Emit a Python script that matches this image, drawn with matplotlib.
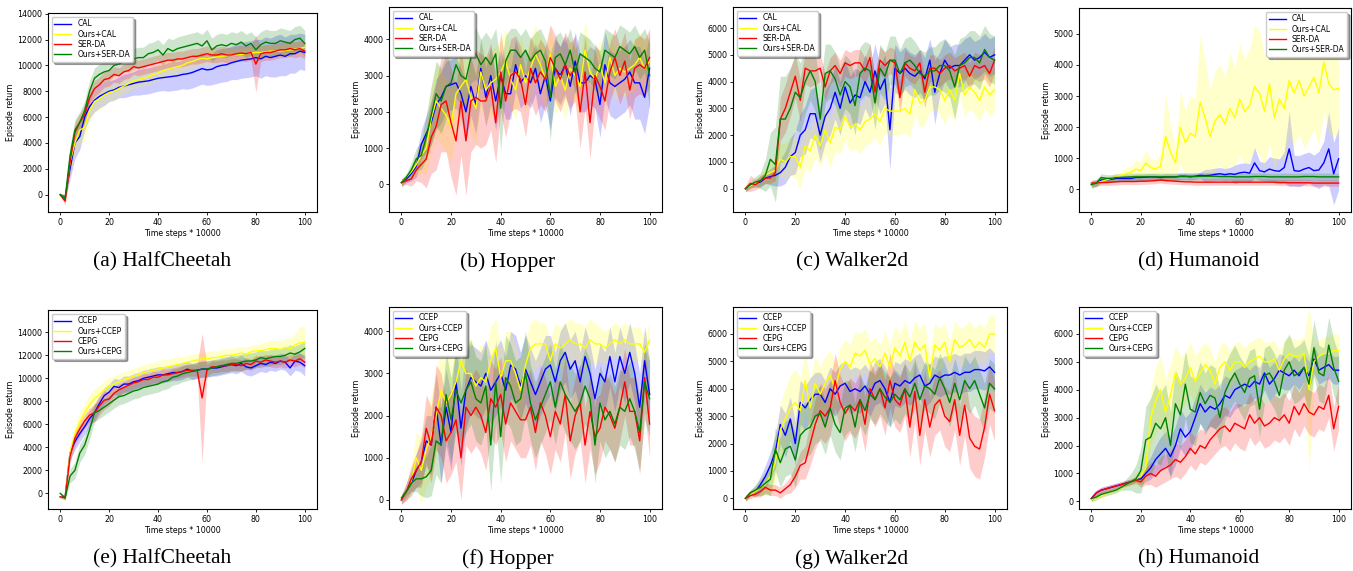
import numpy as np
import matplotlib.pyplot as plt
from matplotlib.ticker import MultipleLocator

# time steps (x 10000), every second step
steps = np.arange(0, 101, 2)

# ---- (a) HalfCheetah, CAL / SER-DA ----
hc_cal = [0, -200, 2000, 4000, 4500, 6000, 6800, 7300, 7600, 7800,
          8000, 8100, 8300, 8400, 8500, 8600, 8700, 8750, 8800, 8900,
          9000, 9050, 9100, 9150, 9200, 9300, 9350, 9450, 9600, 9750,
          9650, 9700, 9900, 10000, 10050, 10200, 10300, 10400, 10450, 10500,
          10600, 10500, 10700, 10600, 10700, 10800, 10700, 10900, 10900, 11100,
          11000]
hc_ours_cal = [0, -300, 2500, 4000, 5000, 5200, 6500, 7200, 7400, 7700,
               7900, 8000, 8200, 8400, 8600, 8800, 8900, 9000, 9100, 9300,
               9400, 9600, 9700, 9800, 9900, 10000, 10200, 10300, 10450, 10550,
               10500, 10600, 10650, 10700, 10750, 10800, 10800, 10850, 10900, 10950,
               11000, 11000, 11050, 11100, 11100, 11100, 11150, 11200, 11250, 11300,
               11400]
hc_ser = [0, -500, 2500, 4800, 5600, 6200, 7500, 8200, 8500, 8900,
          9000, 9300, 9200, 9500, 9600, 9900, 9800, 9900, 10000, 10100,
          10200, 10300, 10400, 10400, 10500, 10500, 10600, 10700, 10700, 10800,
          10900, 10800, 10800, 10900, 10800, 10800, 10900, 10950, 10900, 11000,
          10100, 10900, 11000, 11000, 11100, 11200, 11200, 11300, 11200, 11300,
          11100]
hc_ours_ser = [0, -300, 3000, 5000, 5600, 6500, 8000, 9000, 9300, 9500,
               9600, 10000, 10100, 10300, 10300, 10500, 10600, 10600, 10900, 11000,
               11200, 10800, 11300, 11100, 11300, 11400, 11500, 11600, 11700, 11500,
               11900, 11200, 11500, 11600, 11500, 11700, 11600, 11800, 11500, 11700,
               11200, 11600, 11800, 11700, 11700, 11900, 11800, 11700, 12000, 12100,
               11700]
# band half widths, in hundreds
hc_cal_sd = [1, 2, 8, 12, 10, 10, 9, 9, 9, 9, 8, 8, 8, 9, 9, 9, 10, 10, 10, 10,
             10, 10, 11, 11, 11, 11, 12, 12, 12, 12, 12, 12, 13, 13, 13, 13, 14, 14, 14, 14,
             14, 15, 15, 15, 16, 16, 15, 15, 15, 14, 14]
hc_ours_cal_sd = [1, 3, 8, 10, 11, 10, 9, 8, 8, 7, 7, 7, 6, 6, 6, 6, 6, 6, 6, 6,
                  6, 6, 6, 6, 6, 5, 5, 5, 5, 5, 5, 5, 5, 5, 5, 5, 5, 5, 5, 5,
                  5, 5, 5, 5, 5, 5, 5, 5, 5, 6, 6]
hc_ser_sd = [1, 3, 8, 8, 7, 7, 7, 6, 6, 6, 6, 6, 6, 6, 6, 6, 6, 6, 6, 6,
             6, 6, 6, 6, 6, 6, 6, 6, 6, 6, 6, 6, 6, 6, 6, 6, 6, 6, 6, 6,
             22, 6, 6, 6, 6, 6, 6, 6, 6, 6, 6]
hc_ours_ser_sd = [1, 3, 8, 8, 8, 8, 8, 8, 8, 8, 8, 8, 8, 8, 8, 8, 8, 8, 8, 8,
                  8, 8, 8, 9, 9, 9, 9, 9, 9, 9, 9, 9, 9, 9, 9, 9, 9, 9, 9, 9,
                  10, 10, 10, 10, 10, 10, 10, 10, 10, 10, 10]

# ---- (b) Hopper, CAL / SER-DA ----
hop_cal = [50, 150, 300, 500, 1100, 1400, 1700, 2200, 2400, 2700,
           2750, 2800, 2500, 2000, 2700, 2200, 3200, 2400, 3000, 2300,
           3000, 2500, 2500, 3300, 2800, 3000, 2800, 3200, 2500, 3000,
           2300, 3200, 3000, 3300, 2700, 3400, 2800, 2800, 3000, 2900,
           2200, 3300, 2800, 2700, 2800, 2900, 3100, 2800, 2800, 2400,
           3200]
hop_ours_cal = [50, 200, 350, 550, 800, 1000, 1800, 2300, 2100, 1900,
                1600, 2500, 2700, 2900, 2400, 2100, 3100, 2600, 2800, 2900,
                3100, 3400, 2900, 2600, 3300, 2800, 3200, 3600, 3300, 2900,
                3600, 2700, 3000, 2600, 3200, 3000, 2700, 3700, 3100, 2900,
                3300, 2800, 3500, 3000, 3200, 3100, 3200, 3300, 3500, 3200,
                3400]
hop_ser = [50, 100, 150, 400, 550, 700, 1300, 1600, 2200, 2300,
           1700, 1200, 2300, 1200, 2300, 2400, 2300, 2300, 2700, 1700,
           3100, 2300, 3000, 3100, 2900, 2200, 3200, 2800, 3100, 2900,
           3500, 3200, 2900, 3300, 3000, 3200, 2000, 3100, 1700, 3000,
           2700, 2300, 3100, 3500, 3000, 3400, 2600, 3200, 3300, 3200,
           3500]
hop_ours_ser = [50, 200, 400, 700, 800, 1300, 1900, 2500, 2300, 2700,
                2800, 3300, 3000, 2900, 3500, 3600, 3300, 3500, 3300, 3600,
                2100, 3400, 3700, 3700, 3500, 3700, 3400, 3600, 3700, 3400,
                2400, 3500, 3600, 3300, 3700, 3100, 3600, 3500, 3400, 3200,
                3100, 3700, 3600, 3500, 3800, 3700, 3600, 3800, 3500, 3700,
                3000]
hop_cal_sd = [1, 1, 2, 3, 4, 5, 6, 7, 7, 7, 7, 7, 7, 8, 8, 8, 8, 8, 8, 8,
              7, 7, 7, 7, 7, 7, 7, 7, 8, 8, 8, 8, 8, 8, 8, 8, 8, 8, 8, 8,
              9, 9, 9, 9, 9, 9, 9, 10, 10, 10, 10]
hop_ours_cal_sd = [1, 1, 2, 3, 5, 7, 9, 10, 10, 10, 10, 10, 10, 10, 10, 10, 9, 9, 9, 9,
                   9, 9, 8, 8, 8, 8, 8, 8, 8, 8, 8, 8, 8, 8, 8, 8, 8, 8, 7, 7,
                   7, 7, 7, 7, 7, 7, 7, 7, 7, 7, 7]
hop_ser_sd = [1, 1, 2, 3, 5, 8, 10, 12, 13, 14, 15, 15, 15, 15, 14, 13, 13, 12, 12, 11,
              11, 10, 10, 10, 9, 9, 9, 9, 9, 9, 9, 9, 9, 9, 9, 9, 10, 10, 10, 9,
              9, 8, 8, 8, 8, 8, 8, 8, 8, 8, 8]
hop_ours_ser_sd = [1, 1, 2, 3, 4, 6, 8, 9, 9, 9, 9, 9, 8, 8, 7, 7, 7, 7, 7, 7,
                   12, 7, 6, 6, 6, 6, 6, 6, 6, 6, 12, 6, 6, 6, 6, 6, 6, 6, 6, 6,
                   6, 6, 6, 6, 6, 6, 6, 6, 6, 6, 9]

# ---- (c) Walker2d, CAL / SER-DA ----
walk_cal = [0, 100, 200, 250, 400, 450, 500, 600, 800, 1200,
            1350, 2000, 2200, 2800, 2800, 2000, 2700, 3000, 3600, 3000,
            3800, 3200, 3500, 3400, 4000, 3600, 4400, 3700, 4100, 2200,
            4500, 4300, 4500, 4300, 4200, 4400, 4100, 4800, 3600, 4300,
            4800, 4500, 4600, 4600, 4800, 5000, 4800, 4900, 5100, 4900,
            5000]
walk_ours_cal = [0, 100, 200, 300, 500, 600, 700, 1100, 1000, 1200,
                 1200, 800, 1600, 1400, 2000, 1600, 2200, 1700, 2300, 2200,
                 2700, 2300, 2400, 2200, 2500, 2600, 2800, 2500, 3000, 2900,
                 2900, 2900, 3000, 2800, 3700, 3200, 3300, 3800, 3800, 3700,
                 3300, 3700, 3300, 4300, 3500, 3800, 3600, 3300, 3800, 3500,
                 3700]
walk_ser = [0, 200, 150, 300, 400, 400, 600, 2600, 3000, 3600,
            4200, 3300, 4500, 4400, 4400, 4500, 3800, 4400, 4600, 4300,
            4700, 4600, 4700, 4700, 4400, 4900, 3600, 4800, 4600, 4800,
            4700, 3400, 4700, 4500, 4400, 4700, 3600, 4500, 4500, 4300,
            4500, 4600, 4400, 4500, 4600, 4200, 4600, 4500, 4600, 4300,
            4800]
walk_ours_ser = [0, 150, 250, 300, 500, 1100, 900, 2600, 2600, 3000,
                 3600, 3400, 4000, 4400, 4000, 2600, 4300, 4400, 4100, 3500,
                 4000, 3800, 3100, 4300, 4500, 4400, 3200, 4500, 4200, 4800,
                 4800, 4300, 4700, 4800, 4600, 4300, 4200, 4400, 4400, 4600,
                 4600, 4400, 3800, 4600, 4700, 4900, 4900, 4700, 5200, 4900,
                 4800]
walk_cal_sd = [1, 1, 1, 2, 2, 3, 4, 5, 6, 7, 8, 8, 9, 9, 10, 10, 10, 10, 10, 10,
               10, 10, 10, 10, 10, 10, 10, 9, 9, 15, 9, 8, 8, 8, 8, 8, 8, 8, 12, 8,
               8, 8, 8, 8, 8, 7, 7, 7, 7, 7, 7]
walk_ours_cal_sd = [1, 1, 1, 2, 3, 4, 5, 6, 7, 7, 8, 8, 8, 8, 8, 8, 9, 9, 9, 9,
                    9, 9, 9, 9, 9, 9, 9, 9, 9, 9, 9, 9, 9, 9, 9, 9, 9, 9, 9, 9,
                    9, 9, 8, 8, 8, 8, 8, 8, 8, 8, 8]
walk_ser_sd = [1, 3, 2, 2, 2, 2, 3, 8, 9, 9, 8, 8, 6, 6, 5, 5, 5, 5, 5, 5,
               5, 5, 5, 5, 5, 5, 6, 5, 5, 5, 5, 6, 5, 5, 5, 5, 6, 5, 5, 5,
               5, 5, 5, 5, 5, 5, 5, 5, 5, 5, 5]
walk_ours_ser_sd = [1, 1, 2, 3, 6, 10, 14, 16, 16, 15, 14, 13, 12, 11, 11, 12, 11, 10, 10, 10,
                    10, 10, 11, 10, 10, 10, 10, 9, 9, 9, 9, 9, 9, 9, 9, 9, 9, 9, 9, 9,
                    10, 10, 12, 10, 10, 10, 10, 10, 9, 9, 9]

# ---- (d) Humanoid, CAL / SER-DA ----
hum_cal = [150, 200, 300, 300, 320, 350, 350, 350, 350, 380,
           380, 390, 400, 400, 380, 400, 400, 400, 420, 420,
           400, 420, 450, 440, 450, 480, 500, 470, 500, 480,
           530, 550, 520, 850, 600, 560, 650, 600, 580, 700,
           1300, 600, 580, 650, 700, 600, 620, 850, 1300, 500,
           980]
hum_ours_cal = [150, 200, 250, 300, 350, 400, 450, 500, 550, 650,
                600, 850, 700, 650, 750, 1700, 1200, 850, 2000, 1500,
                1800, 1700, 2800, 2300, 1700, 2200, 2400, 2100, 2600, 2300,
                2900, 2500, 2700, 3300, 3100, 2500, 3400, 2300, 2900, 2600,
                3500, 3100, 3500, 3000, 3300, 3600, 3100, 4100, 3400, 3200,
                3250]
hum_ser = [200, 200, 220, 220, 230, 240, 250, 250, 250, 250,
           260, 260, 270, 280, 300, 280, 270, 260, 250, 240,
           240, 230, 230, 230, 230, 230, 230, 230, 230, 230,
           230, 230, 230, 230, 230, 230, 230, 230, 220, 220,
           210, 210, 210, 210, 210, 200, 200, 200, 200, 200,
           200]
hum_ours_ser = [150, 200, 380, 350, 350, 380, 380, 390, 400, 400,
                400, 400, 400, 400, 400, 400, 400, 400, 410, 410,
                420, 410, 420, 420, 420, 420, 410, 410, 410, 400,
                400, 400, 400, 410, 410, 410, 400, 400, 400, 400,
                400, 400, 400, 410, 410, 410, 400, 400, 400, 400,
                400]
hum_cal_sd = [1, 1, 1, 1, 1, 1, 1, 1, 1, 1, 1, 1, 1, 1, 1, 1, 1, 1, 1, 1,
              1, 1, 1, 2, 2, 2, 2, 2, 2, 3, 3, 3, 3, 5, 3, 3, 4, 4, 4, 5,
              12, 5, 5, 5, 5, 5, 6, 7, 12, 10, 10]
hum_ours_cal_sd = [1, 1, 1, 1, 1, 1, 1, 2, 2, 3, 3, 4, 3, 3, 4, 14, 9, 5, 12, 10,
                   12, 12, 22, 18, 15, 16, 16, 15, 18, 16, 18, 17, 18, 20, 20, 18, 19, 17, 18, 17,
                   18, 17, 17, 17, 17, 17, 17, 16, 16, 15, 15]
hum_ser_sd = 1
hum_ours_ser_sd = 1.2

# ---- (e) HalfCheetah, CCEP / CEPG ----
hc2_ccep = [-300, -300, 3500, 4500, 5200, 5800, 6500, 7000, 7800, 8500,
            8800, 9300, 9200, 9500, 9500, 9700, 9800, 10000, 10100, 10200,
            10300, 10300, 10400, 10500, 10500, 10600, 10800, 10600, 10700, 10800,
            10800, 10900, 10900, 11000, 11100, 11200, 11100, 11300, 11000, 10900,
            11100, 11300, 11200, 11400, 11300, 11500, 11400, 10900, 11500, 11400,
            11100]
hc2_ours_ccep = [-300, -400, 3500, 5200, 6200, 7000, 7700, 8200, 8600, 9000,
                 9300, 9500, 9700, 9900, 10000, 10200, 10300, 10500, 10600, 10700,
                 10800, 10900, 11000, 11100, 11200, 11300, 11400, 11500, 11600, 11700,
                 11700, 11800, 11800, 11900, 12000, 12000, 12100, 12200, 12100, 12300,
                 12400, 12400, 12500, 12600, 12600, 12500, 12700, 12600, 12900, 13100,
                 13100]
hc2_cepg = [-300, -400, 3200, 4800, 5600, 6300, 6800, 7000, 7600, 8100,
            8200, 8700, 9000, 9200, 9400, 9600, 9700, 9900, 9900, 10100,
            10100, 10300, 10300, 10400, 10500, 10600, 10700, 10700, 10700, 8300,
            10700, 11000, 11000, 11100, 11100, 11200, 11200, 11100, 11300, 11200,
            11500, 11400, 11600, 11500, 11400, 11500, 11400, 11600, 11500, 11700,
            11400]
hc2_ours_cepg = [0, -400, 1500, 2000, 3500, 4200, 5500, 7000, 7200, 7500,
                 7800, 8100, 8400, 8500, 8700, 8900, 9000, 9200, 9300, 9400,
                 9500, 9700, 9800, 10100, 10200, 10400, 10500, 10600, 10700, 10800,
                 10800, 10900, 11000, 11100, 11200, 11300, 11300, 11400, 11500, 11500,
                 11600, 11800, 11700, 11800, 11900, 11900, 12000, 12200, 12100, 12300,
                 12600]
hc2_ccep_sd = [1, 2, 6, 7, 7, 7, 7, 7, 7, 7, 7, 7, 7, 7, 7, 7, 7, 7, 7, 7,
               7, 7, 7, 7, 7, 7, 7, 7, 7, 7, 7, 7, 7, 7, 7, 7, 7, 7, 7, 7,
               7, 7, 7, 7, 7, 7, 7, 7, 8, 8, 9]
hc2_ours_ccep_sd = [1, 2, 6, 8, 9, 9, 9, 9, 8, 8, 8, 7, 7, 7, 7, 7, 7, 7, 7, 7,
                    7, 7, 7, 7, 7, 6, 6, 6, 6, 6, 6, 6, 6, 6, 6, 6, 6, 6, 6, 6,
                    6, 6, 7, 7, 7, 8, 8, 9, 10, 14, 14]
hc2_cepg_sd = [1, 2, 6, 6, 6, 6, 6, 8, 8, 8, 6, 6, 5, 5, 5, 5, 5, 5, 5, 5,
               5, 5, 5, 5, 5, 5, 5, 5, 5, 56, 5, 5, 5, 5, 5, 5, 5, 5, 5, 5,
               5, 5, 5, 5, 5, 5, 5, 5, 5, 5, 5]
hc2_ours_cepg_sd = [1, 2, 6, 7, 8, 8, 8, 8, 7, 7, 7, 7, 7, 7, 7, 7, 7, 7, 7, 7,
                    7, 7, 7, 7, 7, 7, 7, 7, 7, 7, 7, 7, 7, 7, 7, 7, 7, 7, 7, 7,
                    7, 7, 7, 7, 7, 7, 7, 7, 7, 7, 7]

# ---- (f) Hopper, CCEP / CEPG ----
hop2_ccep = [0, 200, 400, 700, 900, 1400, 1300, 2200, 1300, 2200,
             1600, 2800, 1700, 2600, 2900, 2800, 2700, 3000, 2600, 2800,
             3000, 2600, 3200, 3100, 2700, 3100, 2800, 2500, 2800, 3100,
             3200, 2800, 3300, 3500, 3100, 3300, 2800, 3400, 3000, 2400,
             3000, 2800, 3400, 2800, 3400, 3000, 3500, 3000, 2200, 3300,
             2500]
hop2_ours_ccep = [0, 200, 450, 1000, 700, 1200, 1500, 2000, 2600, 2300,
                  2500, 2800, 3300, 3000, 3000, 2700, 2900, 2800, 3300, 3600,
                  2900, 3300, 3300, 3000, 2600, 3200, 3600, 3700, 3700, 3700,
                  3300, 3700, 3600, 3700, 3800, 3700, 3700, 3600, 3800, 3700,
                  3700, 3600, 3700, 3800, 3700, 3800, 3700, 3700, 3700, 3500,
                  3800]
hop2_cepg = [0, 200, 500, 700, 900, 1700, 1300, 2200, 2000, 1400,
             1600, 1900, 1000, 2200, 2000, 2200, 2000, 1600, 2400, 2200,
             2500, 1800, 2300, 2100, 1900, 1900, 2200, 1600, 2300, 2000,
             1500, 2100, 1800, 2500, 1400, 2000, 2300, 1300, 2100, 1500,
             1700, 2200, 2000, 1700, 2200, 2800, 2100, 2100, 1400, 2900,
             1800]
hop2_ours_cepg = [50, 200, 400, 500, 500, 550, 700, 1400, 1300, 2500,
                  1900, 2600, 2300, 2600, 2800, 2400, 2300, 2700, 1300, 2800,
                  1500, 2900, 2700, 2300, 2400, 3000, 2300, 1900, 2200, 2500,
                  2800, 2200, 2800, 2500, 2300, 2100, 2300, 2700, 2400, 1300,
                  2300, 1900, 2100, 1800, 2200, 2100, 2400, 2100, 1600, 2800,
                  2400]
hop2_ccep_sd = [1, 2, 3, 4, 5, 6, 7, 8, 9, 9, 9, 9, 9, 9, 8, 8, 8, 8, 8, 8,
                8, 8, 8, 8, 8, 8, 8, 8, 8, 8, 7, 7, 7, 7, 7, 7, 7, 7, 7, 7,
                7, 7, 7, 7, 7, 7, 7, 7, 8, 8, 8]
hop2_ours_ccep_sd = [1, 2, 4, 6, 8, 9, 10, 10, 10, 10, 10, 9, 9, 9, 8, 8, 8, 8, 8, 7,
                     7, 7, 7, 7, 7, 6, 6, 6, 5, 5, 5, 5, 5, 5, 5, 5, 5, 5, 5, 5,
                     4, 4, 4, 4, 4, 4, 4, 4, 4, 4, 4]
hop2_cepg_sd = [1, 2, 3, 4, 6, 8, 9, 10, 10, 10, 10, 10, 10, 9, 9, 9, 9, 9, 9, 9,
                9, 9, 9, 9, 9, 9, 9, 9, 9, 9, 9, 9, 9, 9, 9, 9, 9, 9, 9, 9,
                8, 8, 8, 8, 8, 8, 8, 8, 8, 8, 8]
hop2_ours_cepg_sd = [1, 1, 2, 3, 4, 5, 6, 8, 9, 10, 10, 10, 10, 10, 10, 10, 10, 10, 11, 10,
                     11, 10, 10, 10, 10, 10, 9, 9, 9, 9, 9, 9, 9, 9, 9, 9, 9, 9, 9, 9,
                     9, 9, 9, 9, 9, 9, 9, 9, 9, 9, 9]

# ---- (g) Walker2d, CCEP / CEPG ----
walk2_ccep = [0, 200, 250, 500, 800, 1200, 1700, 2700, 2300, 2900,
              2000, 3500, 3300, 3600, 3800, 3800, 3500, 4000, 3800, 4100,
              4200, 3900, 4000, 3900, 4100, 3800, 4200, 4300, 4000, 3500,
              4200, 4100, 4300, 4200, 4400, 4500, 4100, 4200, 4500, 4400,
              4500, 4500, 4600, 4500, 4600, 4600, 4700, 4700, 4650, 4800,
              4600]
walk2_ours_ccep = [0, 150, 250, 400, 500, 800, 1300, 2500, 2900, 3300,
                   3500, 3200, 4300, 3300, 4200, 3800, 4200, 4500, 4000, 4700,
                   5000, 4800, 5300, 5200, 5400, 4900, 5100, 4800, 5300, 4800,
                   5500, 5200, 5700, 5000, 5700, 5400, 5600, 4400, 5600, 5400,
                   5700, 5000, 5800, 5500, 5600, 5800, 5500, 5700, 5500, 6000,
                   6000]
walk2_cepg = [0, 100, 150, 250, 400, 300, 300, 200, 350, 500,
              800, 1200, 1300, 2000, 2700, 3200, 3000, 3300, 4300, 3500,
              3100, 3400, 3200, 3600, 2700, 4000, 3600, 4000, 3300, 4300,
              3600, 3400, 4000, 2600, 3900, 2300, 3600, 2600, 3400, 3600,
              3000, 2800, 3600, 2300, 3400, 2200, 1900, 1800, 2600, 3800,
              3200]
walk2_ours_cepg = [0, 200, 300, 400, 550, 700, 1800, 1300, 1800, 1900,
                   1400, 2300, 2500, 2600, 3000, 3100, 2600, 3300, 2700, 2400,
                   3300, 3400, 2600, 3600, 3200, 3800, 3600, 4000, 3700, 3500,
                   3800, 3600, 4000, 3700, 4200, 3600, 4100, 4000, 3800, 4400,
                   4000, 3500, 4200, 3600, 4300, 4000, 4300, 3800, 3300, 4200,
                   4000]
walk2_ccep_sd = [1, 1, 2, 3, 4, 5, 6, 7, 8, 8, 8, 8, 8, 8, 8, 8, 8, 8, 8, 8,
                 8, 8, 8, 8, 8, 8, 8, 8, 8, 9, 8, 8, 8, 8, 8, 8, 8, 7, 7, 7,
                 7, 7, 7, 7, 7, 7, 7, 7, 7, 7, 7]
walk2_ours_ccep_sd = [1, 1, 2, 3, 4, 6, 8, 10, 11, 12, 12, 12, 11, 10, 10, 10, 10, 9, 9, 8,
                      8, 8, 8, 8, 8, 8, 8, 8, 8, 8, 8, 8, 8, 8, 8, 8, 8, 8, 8, 8,
                      7, 7, 7, 7, 7, 7, 7, 7, 7, 7, 7]
walk2_cepg_sd = [1, 1, 1, 2, 2, 2, 2, 2, 2, 3, 4, 5, 6, 8, 9, 10, 10, 10, 10, 10,
                 10, 10, 10, 10, 10, 10, 10, 10, 10, 10, 10, 10, 10, 11, 11, 11, 11, 11, 11, 11,
                 11, 11, 11, 11, 11, 11, 11, 11, 11, 11, 11]
walk2_ours_cepg_sd = [1, 1, 2, 3, 4, 6, 8, 9, 10, 10, 10, 10, 10, 10, 10, 10, 10, 10, 10, 10,
                      10, 9, 9, 9, 9, 9, 9, 9, 9, 9, 9, 9, 9, 9, 9, 9, 9, 9, 9, 9,
                      9, 9, 9, 9, 9, 9, 9, 9, 9, 9, 9]

# ---- (h) Humanoid, CCEP / CEPG ----
hum2_ccep = [100, 300, 400, 450, 500, 550, 600, 650, 700, 800,
             800, 1000, 1200, 1500, 1700, 1900, 1600, 2000, 2600, 2300,
             2500, 3000, 3500, 3200, 3400, 3300, 3500, 3800, 3700, 4000,
             4100, 4200, 4100, 4300, 4200, 4600, 4200, 4400, 4700, 4600,
             4500, 4700, 4500, 4800, 4500, 5100, 4700, 4800, 4900, 4700,
             4700]
hum2_ours_ccep = [50, 150, 200, 300, 350, 400, 500, 600, 700, 800,
                  900, 1200, 3000, 3600, 4000, 3200, 3800, 4600, 4200, 4400,
                  4800, 4300, 4600, 4900, 4700, 4200, 4800, 5000, 4700, 5000,
                  5000, 4800, 5000, 5100, 5200, 5000, 5000, 5100, 4700, 5100,
                  5300, 5200, 5200, 5300, 4000, 5000, 5200, 5300, 5300, 5400,
                  5400]
hum2_cepg = [100, 300, 400, 450, 500, 550, 600, 650, 700, 750,
             700, 900, 1000, 900, 1100, 1200, 1300, 1500, 1400, 1600,
             1900, 1700, 2000, 1900, 2200, 2400, 2600, 2700, 2500, 2800,
             2700, 2600, 3100, 2800, 3000, 2700, 2800, 3000, 2900, 3100,
             2800, 3400, 3100, 3500, 3200, 3100, 3400, 3300, 3800, 2600,
             3400]
hum2_ours_cepg = [100, 150, 250, 300, 350, 400, 500, 600, 700, 800,
                  1100, 2200, 2300, 2800, 2600, 3000, 2000, 3500, 3100, 4200,
                  3300, 3200, 3900, 3500, 3800, 3700, 3000, 3900, 4300, 4600,
                  4200, 3900, 4400, 4500, 3300, 4500, 4600, 4300, 3800, 4700,
                  5000, 4500, 4600, 4800, 4200, 5500, 4600, 4500, 5600, 4800,
                  4300]
hum2_ccep_sd = [1, 1, 1, 1, 1, 1, 1, 1, 1, 1, 2, 3, 4, 5, 6, 6, 7, 7, 7, 7,
                7, 7, 7, 7, 7, 7, 7, 7, 7, 7, 7, 7, 6, 6, 6, 6, 6, 6, 6, 6,
                5, 5, 5, 5, 5, 5, 5, 5, 5, 5, 5]
hum2_ours_ccep_sd = [1, 1, 1, 1, 1, 1, 1, 1, 1, 2, 3, 6, 10, 12, 12, 12, 11, 10, 10, 9,
                     9, 9, 9, 8, 8, 8, 8, 7, 7, 7, 7, 7, 7, 7, 7, 7, 7, 7, 7, 7,
                     6, 6, 6, 6, 30, 6, 6, 6, 6, 6, 6]
hum2_cepg_sd = [1, 1, 1, 1, 1, 1, 1, 1, 1, 1, 2, 3, 4, 4, 5, 5, 5, 6, 6, 6,
                6, 6, 6, 6, 7, 7, 7, 7, 7, 7, 8, 8, 8, 8, 8, 8, 8, 8, 8, 8,
                8, 8, 8, 8, 8, 8, 8, 8, 8, 8, 8]
hum2_ours_cepg_sd = [1, 1, 1, 1, 1, 1, 1, 2, 3, 5, 8, 12, 14, 14, 13, 12, 12, 12, 12, 12,
                     12, 12, 11, 11, 11, 11, 10, 10, 10, 10, 10, 10, 10, 10, 10, 10, 10, 10, 10, 10,
                     10, 10, 10, 10, 10, 10, 10, 10, 10, 10, 10]

labels_top = ['CAL', 'Ours+CAL', 'SER-DA', 'Ours+SER-DA']
labels_bottom = ['CCEP', 'Ours+CCEP', 'CEPG', 'Ours+CEPG']
colors = ['blue', 'yellow', 'red', 'green']

W, H = 1353, 571
fig = plt.figure(figsize=(W / 100, H / 100), dpi=100)


def panel(box, series, spreads, labels, ylim, ystep, loc, caption, cap_xy):
    l, t, r, b = box
    ax = fig.add_axes([l / W, 1 - b / H, (r - l) / W, (b - t) / H])
    for y, sd, lab, c in zip(series, spreads, labels, colors):
        y = np.asarray(y, float)
        sd = np.asarray(sd, float) * 100
        ax.fill_between(steps, y - sd, y + sd, color=c, alpha=0.2, lw=0)
        ax.plot(steps, y, color=c, lw=1.0, label=lab)
    ax.set_xlim(-5, 105)
    ax.set_ylim(*ylim)
    ax.xaxis.set_major_locator(MultipleLocator(20))
    ax.yaxis.set_major_locator(MultipleLocator(ystep))
    ax.tick_params(labelsize=5.7, length=2.5, width=0.6, pad=1.5)
    for s in ax.spines.values():
        s.set_linewidth(0.8)
    ax.set_xlabel('Time steps * 10000', fontsize=5.7, labelpad=1.5)
    ax.set_ylabel('Episode return', fontsize=5.7, labelpad=2)
    ax.legend(loc=loc, fontsize=5.5, shadow=True, labelspacing=0.15,
              borderpad=0.35, handlelength=2.2)
    fig.text(cap_xy[0] / W, 1 - cap_xy[1] / H, caption, ha='center', va='center',
             family='Liberation Serif', fontsize=15.5)
    return ax


panel((48, 13, 317, 212), [hc_cal, hc_ours_cal, hc_ser, hc_ours_ser],
      [hc_cal_sd, hc_ours_cal_sd, hc_ser_sd, hc_ours_ser_sd], labels_top,
      (-1340, 14050), 2000, 'upper left', '(a) HalfCheetah', (162, 262))
panel((389, 7, 662, 212), [hop_cal, hop_ours_cal, hop_ser, hop_ours_ser],
      [hop_cal_sd, hop_ours_cal_sd, hop_ser_sd, hop_ours_ser_sd], labels_top,
      (-760, 4890), 1000, 'upper left', '(b) Hopper', (508, 262))
panel((733, 7, 1007, 212), [walk_cal, walk_ours_cal, walk_ser, walk_ours_ser],
      [walk_cal_sd, walk_ours_cal_sd, walk_ser_sd, walk_ours_ser_sd], labels_top,
      (-870, 6785), 1000, 'upper left', '(c) Walker2d', (852, 262))
panel((1079, 8, 1351, 212), [hum_cal, hum_ours_cal, hum_ser, hum_ours_ser],
      [hum_cal_sd, hum_ours_cal_sd, hum_ser_sd, hum_ours_ser_sd], labels_top,
      (-730, 5830), 1000, 'upper right', '(d) Humanoid', (1199, 262))

panel((48, 310, 317, 509), [hc2_ccep, hc2_ours_ccep, hc2_cepg, hc2_ours_cepg],
      [hc2_ccep_sd, hc2_ours_ccep_sd, hc2_cepg_sd, hc2_ours_cepg_sd], labels_bottom,
      (-1360, 15940), 2000, 'upper left', '(e) HalfCheetah', (162, 559))
panel((389, 307, 662, 509), [hop2_ccep, hop2_ours_ccep, hop2_cepg, hop2_ours_cepg],
      [hop2_ccep_sd, hop2_ours_ccep_sd, hop2_cepg_sd, hop2_ours_cepg_sd], labels_bottom,
      (-215, 4575), 1000, 'upper left', '(f) Hopper', (508, 559))
panel((733, 307, 1007, 509), [walk2_ccep, walk2_ours_ccep, walk2_cepg, walk2_ours_cepg],
      [walk2_ccep_sd, walk2_ours_ccep_sd, walk2_cepg_sd, walk2_ours_cepg_sd], labels_bottom,
      (-390, 6985), 1000, 'upper left', '(g) Walker2d', (852, 559))
panel((1079, 307, 1351, 509), [hum2_ccep, hum2_ours_ccep, hum2_cepg, hum2_ours_cepg],
      [hum2_ccep_sd, hum2_ours_ccep_sd, hum2_cepg_sd, hum2_ours_cepg_sd], labels_bottom,
      (-275, 6965), 1000, 'upper left', '(h) Humanoid', (1199, 559))

fig.savefig('out.png', dpi=100)
